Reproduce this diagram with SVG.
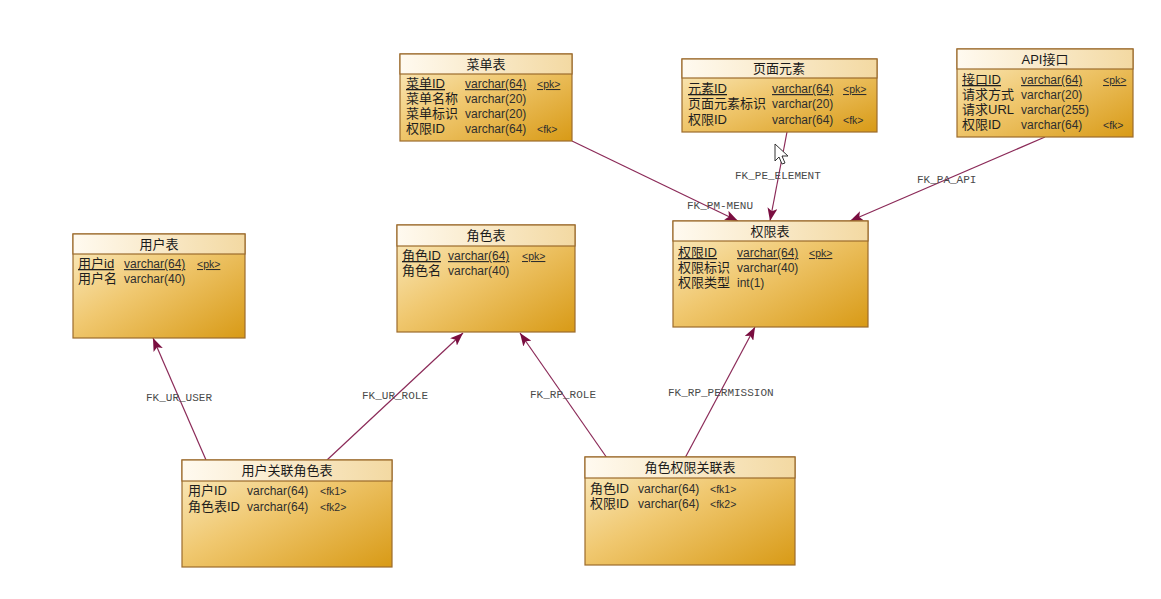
<svg xmlns="http://www.w3.org/2000/svg" width="1161" height="599" viewBox="0 0 1161 599">
<style>
.box{fill:url(#body);stroke:#9c6b2c;stroke-width:1.2}
.hdr{fill:url(#head);stroke:#9c6b2c;stroke-width:1.2}
.title{font-family:"Liberation Sans","Noto Sans CJK SC",sans-serif;font-size:13px;fill:#1a1a1a;text-anchor:middle}
.nm{font-family:"Liberation Sans","Noto Sans CJK SC",sans-serif;font-size:13px;fill:#1e1e1e}
.ty{font-family:"Liberation Sans","Noto Sans CJK SC",sans-serif;font-size:12px;fill:#2e2e2e}
.ky{font-family:"Liberation Sans",sans-serif;font-size:10.5px;fill:#2e2e2e}
.u{text-decoration:underline}
.ln{stroke:#8b2a58;stroke-width:1.2;fill:none;marker-end:url(#arr)}
.lbl{font-family:"Liberation Mono",monospace;font-size:11px;fill:#4a4a4a}
</style>
<defs>
<linearGradient id="body" x1="0" y1="0" x2="1" y2="1">
<stop offset="0" stop-color="#fbedc6"/>
<stop offset="0.45" stop-color="#f0c870"/>
<stop offset="1" stop-color="#d89a16"/>
</linearGradient>
<linearGradient id="head" x1="0" y1="0" x2="1" y2="0">
<stop offset="0" stop-color="#fffaf0"/>
<stop offset="1" stop-color="#f3d9a2"/>
</linearGradient>
<marker id="arr" markerUnits="userSpaceOnUse" markerWidth="14" markerHeight="10" refX="13" refY="5" orient="auto">
<path d="M0,0 L13,5 L0,10 L3,5 z" fill="#7a0e40"/>
</marker>
</defs>
<rect width="1161" height="599" fill="#ffffff"/>

<g id="connectors">
<line class="ln" x1="206" y1="460" x2="153" y2="338"/>
<line class="ln" x1="327" y1="460" x2="463" y2="333"/>
<line class="ln" x1="607" y1="458" x2="520" y2="333"/>
<line class="ln" x1="685" y1="458" x2="755" y2="327"/>
<line class="ln" x1="572" y1="141" x2="738" y2="221"/>
<line class="ln" x1="787" y1="132" x2="770" y2="221"/>
<line class="ln" x1="1045" y1="137" x2="850" y2="221"/>
<text class="lbl" x="146" y="401">FK_UR_USER</text>
<text class="lbl" x="362" y="399">FK_UR_ROLE</text>
<text class="lbl" x="530" y="398">FK_RP_ROLE</text>
<text class="lbl" x="668" y="396">FK_RP_PERMISSION</text>
<text class="lbl" x="687" y="209">FK_PM-MENU</text>
<text class="lbl" x="735" y="179">FK_PE_ELEMENT</text>
<text class="lbl" x="917" y="183">FK_PA_API</text>
</g>

<g id="menu">
<rect class="box" x="400" y="54" width="172" height="87"/>
<rect class="hdr" x="400" y="54" width="172" height="20"/>
<text class="title" x="486" y="69">菜单表</text>
<text class="nm u" x="406" y="88">菜单ID</text><text class="ty u" x="465" y="88">varchar(64)</text><text class="ky u" x="537" y="88">&lt;pk&gt;</text>
<text class="nm" x="406" y="103">菜单名称</text><text class="ty" x="465" y="103">varchar(20)</text>
<text class="nm" x="406" y="118">菜单标识</text><text class="ty" x="465" y="118">varchar(20)</text>
<text class="nm" x="406" y="133">权限ID</text><text class="ty" x="465" y="133">varchar(64)</text><text class="ky" x="537" y="133">&lt;fk&gt;</text>
</g>

<g id="element">
<rect class="box" x="682" y="59" width="195" height="73"/>
<rect class="hdr" x="682" y="59" width="195" height="19"/>
<text class="title" x="779" y="73">页面元素</text>
<text class="nm u" x="688" y="93">元素ID</text><text class="ty u" x="772" y="93">varchar(64)</text><text class="ky u" x="843" y="93">&lt;pk&gt;</text>
<text class="nm" x="688" y="108">页面元素标识</text><text class="ty" x="772" y="108">varchar(20)</text>
<text class="nm" x="688" y="124">权限ID</text><text class="ty" x="772" y="124">varchar(64)</text><text class="ky" x="843" y="124">&lt;fk&gt;</text>
</g>

<g id="api">
<rect class="box" x="957" y="49" width="176" height="88"/>
<rect class="hdr" x="957" y="49" width="176" height="20"/>
<text class="title" x="1045" y="64">API接口</text>
<text class="nm u" x="962" y="84">接口ID</text><text class="ty u" x="1021" y="84">varchar(64)</text><text class="ky u" x="1103" y="84">&lt;pk&gt;</text>
<text class="nm" x="962" y="99">请求方式</text><text class="ty" x="1021" y="99">varchar(20)</text>
<text class="nm" x="962" y="114">请求URL</text><text class="ty" x="1021" y="114">varchar(255)</text>
<text class="nm" x="962" y="129">权限ID</text><text class="ty" x="1021" y="129">varchar(64)</text><text class="ky" x="1103" y="129">&lt;fk&gt;</text>
</g>

<g id="permission">
<rect class="box" x="673" y="221" width="195" height="106"/>
<rect class="hdr" x="673" y="221" width="195" height="20"/>
<text class="title" x="770" y="236">权限表</text>
<text class="nm u" x="678" y="257">权限ID</text><text class="ty u" x="737" y="257">varchar(64)</text><text class="ky u" x="809" y="257">&lt;pk&gt;</text>
<text class="nm" x="678" y="272">权限标识</text><text class="ty" x="737" y="272">varchar(40)</text>
<text class="nm" x="678" y="287">权限类型</text><text class="ty" x="737" y="287">int(1)</text>
</g>

<g id="user">
<rect class="box" x="73" y="234" width="172" height="104"/>
<rect class="hdr" x="73" y="234" width="172" height="20"/>
<text class="title" x="159" y="249">用户表</text>
<text class="nm u" x="78" y="268">用户id</text><text class="ty u" x="124" y="268">varchar(64)</text><text class="ky u" x="197" y="268">&lt;pk&gt;</text>
<text class="nm" x="78" y="283">用户名</text><text class="ty" x="124" y="283">varchar(40)</text>
</g>

<g id="role">
<rect class="box" x="397" y="225" width="178" height="107"/>
<rect class="hdr" x="397" y="225" width="178" height="21"/>
<text class="title" x="486" y="240">角色表</text>
<text class="nm u" x="402" y="260">角色ID</text><text class="ty u" x="448" y="260">varchar(64)</text><text class="ky u" x="522" y="260">&lt;pk&gt;</text>
<text class="nm" x="402" y="275">角色名</text><text class="ty" x="448" y="275">varchar(40)</text>
</g>

<g id="user_role">
<rect class="box" x="182" y="460" width="210" height="107"/>
<rect class="hdr" x="182" y="460" width="210" height="21"/>
<text class="title" x="287" y="475">用户关联角色表</text>
<text class="nm" x="188" y="495">用户ID</text><text class="ty" x="247" y="495">varchar(64)</text><text class="ky" x="320" y="495">&lt;fk1&gt;</text>
<text class="nm" x="188" y="511">角色表ID</text><text class="ty" x="247" y="511">varchar(64)</text><text class="ky" x="320" y="511">&lt;fk2&gt;</text>
</g>

<g id="role_permission">
<rect class="box" x="585" y="457" width="210" height="108"/>
<rect class="hdr" x="585" y="457" width="210" height="21"/>
<text class="title" x="690" y="472">角色权限关联表</text>
<text class="nm" x="590" y="493">角色ID</text><text class="ty" x="638" y="493">varchar(64)</text><text class="ky" x="710" y="493">&lt;fk1&gt;</text>
<text class="nm" x="590" y="508">权限ID</text><text class="ty" x="638" y="508">varchar(64)</text><text class="ky" x="710" y="508">&lt;fk2&gt;</text>
</g>

<g id="cursor">
<path d="M775,144 L775,161 L779,157 L782,164 L785,163 L782,156 L788,156 z" fill="#ffffff" stroke="#333" stroke-width="1"/>
</g>
</svg>
